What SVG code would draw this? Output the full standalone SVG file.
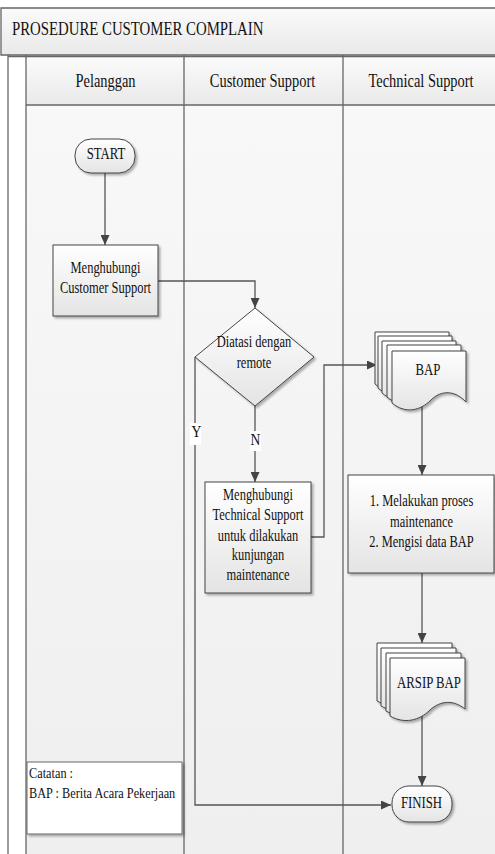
<svg xmlns="http://www.w3.org/2000/svg" xmlns:xlink="http://www.w3.org/1999/xlink" width="495" height="854" viewBox="0 0 495 854">
<style>
  text { font-family: "Liberation Serif", "Times New Roman", serif; fill: #111; }
  .hdr { font-size: 19px; }
  .hdrc { font-size: 19px; text-anchor: middle; }
  .lbl { font-size: 16px; text-anchor: middle; }
  .note { font-size: 15px; }
  .lane { stroke: #666; stroke-width: 1.3; fill: none; }
  .shape { fill: url(#shapeGrad); stroke: #444; stroke-width: 1; filter: url(#shadow); }
  .conn { stroke: #555; stroke-width: 1.3; fill: none; marker-end: url(#arrow); }
</style>
<defs>
  <linearGradient id="shapeGrad" x1="0" y1="0" x2="0" y2="1">
    <stop offset="0" stop-color="#ffffff"/>
    <stop offset="1" stop-color="#e4e4e4"/>
  </linearGradient>
  <linearGradient id="bandGrad" x1="0" y1="0" x2="0" y2="1">
    <stop offset="0" stop-color="#fbfbfb"/>
    <stop offset="1" stop-color="#e9e9e9"/>
  </linearGradient>
  <linearGradient id="laneGrad" x1="0" y1="0" x2="0" y2="1">
    <stop offset="0" stop-color="#f8f8f8"/>
    <stop offset="1" stop-color="#efefef"/>
  </linearGradient>
  <filter id="shadow" x="-20%" y="-20%" width="150%" height="150%">
    <feDropShadow dx="2" dy="2" stdDeviation="1.2" flood-color="#000" flood-opacity="0.3"/>
  </filter>
  <marker id="arrow" viewBox="0 0 10 9" refX="10" refY="4.5" markerWidth="10" markerHeight="9" markerUnits="userSpaceOnUse" orient="auto">
    <path d="M0,0 L10,4.5 L0,9 Z" fill="#444"/>
  </marker>
  <path id="docBap" d="M0,0 H74 V51 C63,39 49,39 39,49 C28,60 13,63 0,52 Z"/>
  <path id="docArsip" d="M0,0 H75 V51 C64,42 51,42 40,52 C29,63 14,66 0,58 Z"/>
</defs>

<g id="pool">
  <rect x="0" y="0" width="495" height="854" fill="#ffffff"/>
  <rect x="1" y="8" width="494" height="47" fill="url(#bandGrad)"/>
  <path d="M495,8 H1 V55 H495" fill="none" stroke="#666" stroke-width="1.3"/>
  <text class="hdr" transform="translate(12,35) scale(0.78,1)">PROSEDURE CUSTOMER COMPLAIN</text>
  <rect x="26" y="105" width="469" height="749" fill="url(#laneGrad)"/>
  <rect x="26" y="56" width="469" height="49" fill="url(#bandGrad)"/>
  <line class="lane" x1="8" y1="55" x2="8" y2="854"/>
  <line class="lane" x1="26" y1="55" x2="26" y2="854"/>
  <line class="lane" x1="184" y1="55" x2="184" y2="854"/>
  <line class="lane" x1="343" y1="55" x2="343" y2="854"/>
  <line class="lane" x1="8" y1="56.5" x2="495" y2="56.5"/>
  <line class="lane" x1="26" y1="105" x2="495" y2="105"/>
  <text class="hdrc" transform="translate(105.5,87) scale(0.76,1)">Pelanggan</text>
  <text class="hdrc" transform="translate(262.5,87) scale(0.76,1)">Customer Support</text>
  <text class="hdrc" transform="translate(421,87) scale(0.76,1)">Technical Support</text>
</g>

<g id="connectors">
  <path class="conn" d="M105,173 V245"/>
  <path class="conn" d="M158,281 H255 V308"/>
  <path class="conn" d="M255,406 V482"/>
  <path class="conn" d="M195,357 V805 H391"/>
  <path class="conn" d="M311,537 H324 V365 H377"/>
  <path class="conn" d="M422,405 V475"/>
  <path class="conn" d="M422,573 V643"/>
  <path class="conn" d="M422,716 V786"/>
  <rect x="190" y="423" width="11" height="22" fill="#ffffff"/>
  <text class="lbl" font-size="15" transform="translate(196.5,437) scale(0.85,1)">Y</text>
  <rect x="250" y="431" width="11" height="20" fill="#ffffff"/>
  <text class="lbl" font-size="15" transform="translate(255.5,445) scale(0.85,1)">N</text>
</g>

<g id="start">
  <rect class="shape" x="75" y="139" width="60" height="34" rx="16" ry="16"/>
  <text class="lbl" transform="translate(106,159) scale(0.8,1)">START</text>
</g>

<g id="hubungi-cs">
  <rect class="shape" x="53" y="245" width="105" height="71"/>
  <text class="lbl" transform="translate(105.5,273) scale(0.78,1)">Menghubungi</text>
  <text class="lbl" transform="translate(105.5,293) scale(0.78,1)">Customer Support</text>
</g>

<g id="decision">
  <path class="shape" d="M255,308 L314,357 L255,406 L195,357 Z"/>
  <text class="lbl" transform="translate(254,347) scale(0.78,1)">Diatasi dengan</text>
  <text class="lbl" transform="translate(254,368) scale(0.78,1)">remote</text>
</g>

<g id="hubungi-ts">
  <rect class="shape" x="205" y="482" width="106" height="111"/>
  <text class="lbl" transform="translate(258,500) scale(0.78,1)">Menghubungi</text>
  <text class="lbl" transform="translate(258,520) scale(0.78,1)">Technical Support</text>
  <text class="lbl" transform="translate(258,541) scale(0.78,1)">untuk dilakukan</text>
  <text class="lbl" transform="translate(258,560) scale(0.78,1)">kunjungan</text>
  <text class="lbl" transform="translate(258,580) scale(0.78,1)">maintenance</text>
</g>

<g id="bap">
  <use href="#docBap" class="shape" transform="translate(375,332)"/>
  <use href="#docBap" class="shape" transform="translate(378,336)"/>
  <use href="#docBap" class="shape" transform="translate(382,341)"/>
  <use href="#docBap" class="shape" transform="translate(387,345)"/>
  <use href="#docBap" class="shape" transform="translate(392,351)"/>
  <text class="lbl" transform="translate(428,375) scale(0.8,1)">BAP</text>
</g>

<g id="maintenance">
  <rect class="shape" x="348" y="475" width="146" height="98"/>
  <text class="lbl" transform="translate(421.5,506) scale(0.78,1)">1. Melakukan proses</text>
  <text class="lbl" transform="translate(421.5,527) scale(0.78,1)">maintenance</text>
  <text class="lbl" transform="translate(421.5,547) scale(0.78,1)">2. Mengisi data BAP</text>
</g>

<g id="arsip-bap">
  <use href="#docArsip" class="shape" transform="translate(377,643)"/>
  <use href="#docArsip" class="shape" transform="translate(381,648)"/>
  <use href="#docArsip" class="shape" transform="translate(386,653)"/>
  <use href="#docArsip" class="shape" transform="translate(390,658)"/>
  <text class="lbl" transform="translate(429,688) scale(0.8,1)">ARSIP BAP</text>
</g>

<g id="finish">
  <rect class="shape" x="392" y="786" width="60" height="36" rx="17" ry="17"/>
  <text class="lbl" transform="translate(421.5,808) scale(0.8,1)">FINISH</text>
</g>

<g id="catatan">
  <rect x="27" y="762" width="155" height="72" fill="#ffffff" stroke="#666" stroke-width="1" filter="url(#shadow)"/>
  <text class="note" transform="translate(29,778) scale(0.82,1)">Catatan :</text>
  <text class="note" transform="translate(29,798) scale(0.82,1)">BAP : Berita Acara Pekerjaan</text>
</g>
</svg>
